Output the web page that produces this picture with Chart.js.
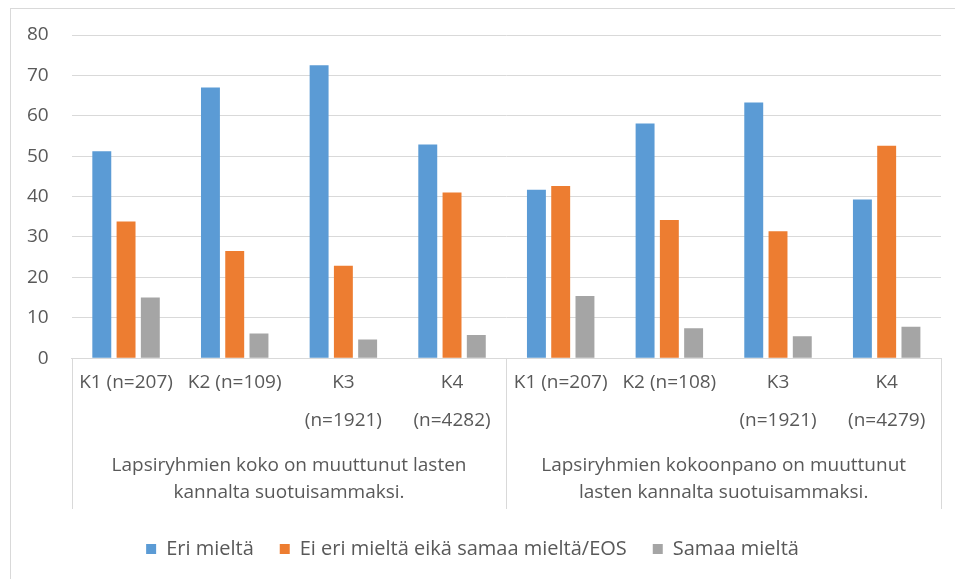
<!DOCTYPE html>
<html>
<head>
<meta charset="utf-8">
<script src="https://cdn.jsdelivr.net/npm/chart.js@4.4.0/dist/chart.umd.min.js"></script>
<style>
  body { margin: 0; background: #fff; }
  #wrap { position: relative; width: 955px; height: 579px; }
  #frame { position: absolute; left: 10px; top: 8px; right: 0; bottom: 0;
           border-left: 1px solid #d9d9d9; border-top: 1px solid #d9d9d9; }
  #mycanvas { position: absolute; left: 0; top: 0; }
</style>
</head>
<body>
<div id="wrap">
  <div id="frame"></div>
  <canvas id="mycanvas" width="955" height="579"></canvas>
</div>
<script>
var subLabels = [
	'K1 (n=207)', 'K2 (n=109)', ['K3', '(n=1921)'], ['K4', '(n=4282)'],
	'K1 (n=207)', 'K2 (n=108)', ['K3', '(n=1921)'], ['K4', '(n=4279)']
];
var groupLabels = [
	['Lapsiryhmien koko on muuttunut lasten', 'kannalta suotuisammaksi.'],
	['Lapsiryhmien kokoonpano on muuttunut', 'lasten kannalta suotuisammaksi.']
];
var eriMielta = [51.2, 67.0, 72.5, 52.9, 41.7, 58.1, 63.3, 39.3];
var eiEriEiSamaa = [33.8, 26.5, 22.9, 41.0, 42.6, 34.2, 31.4, 52.6];
var samaaMielta = [15.0, 6.1, 4.6, 5.7, 15.4, 7.4, 5.4, 7.8];
var yTicks = [0, 10, 20, 30, 40, 50, 60, 70, 80];

var textColor = '#595959';
var lineColor = '#d9d9d9';
var fontFamily = "'Open Sans', sans-serif";

// vertical separators between the two question groups
var separators = {
	id: 'separators',
	afterDraw: function(chart) {
		var x = chart.scales.x;
		var x2 = chart.scales.x2;
		var ctx = chart.ctx;
		var mid = (x.getPixelForValue(3) + x.getPixelForValue(4)) / 2;
		ctx.save();
		ctx.strokeStyle = lineColor;
		ctx.lineWidth = 1;
		[x.left, mid, x.right].forEach(function(px) {
			px = Math.round(px) + 0.5;
			ctx.beginPath();
			ctx.moveTo(px, x.top);
			ctx.lineTo(px, x2.bottom - 4);
			ctx.stroke();
		});
		ctx.restore();
	}
};

var chartdata = {
	labels: subLabels,
	datasets: [
		{ label: 'Eri mieltä', backgroundColor: '#5b9bd5', data: eriMielta },
		{ label: 'Ei eri mieltä eikä samaa mieltä/EOS', backgroundColor: '#ed7d31', data: eiEriEiSamaa },
		{ label: 'Samaa mieltä', backgroundColor: '#a5a5a5', data: samaaMielta }
	]
};

var ctx = document.getElementById('mycanvas');

var BarGraph = new Chart(ctx, {
	type: 'bar',
	data: chartdata,
	plugins: [separators],
	options: {
		responsive: false,
		animation: false,
		barPercentage: 0.78,
		categoryPercentage: 0.67,
		layout: { padding: { left: 4, right: 14, top: 35, bottom: 10 } },
		plugins: {
			tooltip: { enabled: false },
			legend: {
				position: 'bottom',
				labels: {
					boxWidth: 10,
					boxHeight: 10,
					padding: 26,
					color: textColor,
					font: { family: fontFamily, size: 20 }
				}
			}
		},
		scales: {
			y: {
				min: 0,
				max: 80,
				afterBuildTicks: function(axis) {
					axis.ticks = yTicks.map(function(v) { return { value: v }; });
				},
				border: { display: false },
				grid: { color: lineColor, drawTicks: false },
				ticks: {
					padding: 23,
					color: textColor,
					font: { family: fontFamily, size: 19 }
				}
			},
			x: {
				border: { color: lineColor },
				grid: { display: false, drawTicks: false },
				ticks: {
					padding: 4.5,
					maxRotation: 0,
					autoSkip: false,
					color: textColor,
					font: { family: fontFamily, size: 19, lineHeight: 2.05 }
				}
			},
			x2: {
				type: 'category',
				position: 'bottom',
				labels: groupLabels,
				border: { display: false },
				grid: { display: false, drawTicks: false },
				ticks: {
					padding: 7,
					maxRotation: 0,
					autoSkip: false,
					color: textColor,
					font: { family: fontFamily, size: 19, lineHeight: 1.42 }
				}
			}
		}
	}
});
</script>
</body>
</html>
